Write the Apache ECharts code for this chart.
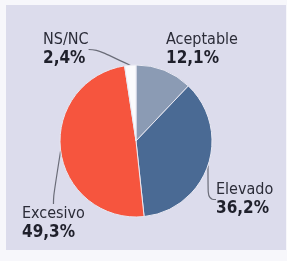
<!DOCTYPE html>
<html>
<head>
<meta charset="utf-8">
<script src="https://cdn.jsdelivr.net/npm/echarts@6/dist/echarts.min.js"></script>
<style>
  html, body { margin: 0; padding: 0; background: #f7f7fb; }
  #chart { width: 287px; height: 261px; }
</style>
</head>
<body>
<div id="chart"></div>
<script>
const categories = ['Aceptable', 'Elevado', 'Excesivo', 'NS/NC']
const values = [12.1, 36.2, 49.3, 2.4]
const colors = ['#8b9bb4', '#4a6a94', '#f6553e', '#fbfbfd']

// where each label sits (x, y of the label box top-left)
const labelPos = [
  { x: 166, y: 30 },
  { x: 216, y: 180 },
  { x: 22, y: 204 },
  { x: 43, y: 30 }
]

const font = 'DejaVu Sans Condensed, Liberation Sans Narrow, sans-serif'

const chart = echarts.init(document.getElementById('chart'))

chart.setOption({
  animation: false,
  graphic: [{
    type: 'rect',
    shape: { x: 6, y: 5, width: 280, height: 245 },
    style: { fill: '#dcdcec' },
    z: -10
  }],
  series: [{
    type: 'pie',
    center: [136, 141],
    radius: 76,
    startAngle: 90,
    clockwise: true,
    data: categories.map((name, i) => ({
      name,
      value: values[i],
      itemStyle: { color: colors[i] },
      labelLine: { show: i !== 0 }
    })),
    itemStyle: { borderColor: '#e8e8f2', borderWidth: 1 },
    label: {
      show: true,
      overflow: 'none',
      color: '#2b2c38',
      fontFamily: font,
      fontSize: 16,
      lineHeight: 19,
      formatter: p => '{n|' + p.name + '}\n{v|' + p.value.toFixed(1).replace('.', ',') + '%}',
      rich: {
        n: { fontSize: 16, lineHeight: 19, color: '#2b2c38', fontFamily: font },
        v: { fontSize: 17, lineHeight: 20, fontWeight: 'bold', color: '#1f202b', fontFamily: font }
      }
    },
    labelLine: {
      show: true,
      smooth: 0.5,
      length: 14,
      length2: 8,
      lineStyle: { color: '#6a6c78', width: 1.2 }
    },
    labelLayout: params => {
      const p = labelPos[params.dataIndex]
      return { x: p.x, y: p.y, align: 'left', verticalAlign: 'top' }
    }
  }]
})
</script>
</body>
</html>
